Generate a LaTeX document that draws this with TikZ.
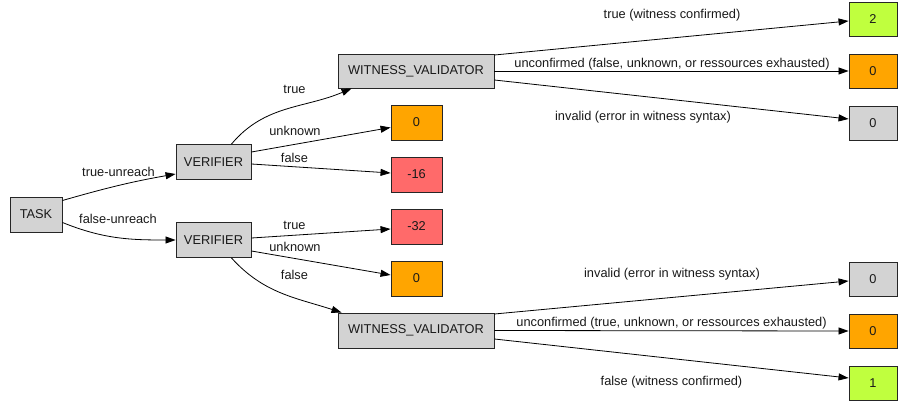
\documentclass[tikz,border=0pt]{standalone}
\usepackage{fontspec}
\setmainfont{Liberation Sans}
\usetikzlibrary{arrows.meta}
\definecolor{boxgrey}{HTML}{D3D3D3}
\definecolor{boxorange}{HTML}{FFA500}
\definecolor{boxred}{HTML}{FF6A6A}
\definecolor{boxgreen}{HTML}{C0FF3E}
\definecolor{edgecol}{HTML}{000000}
\begin{document}
\begin{tikzpicture}[x=1pt,y=-1pt,
  every node/.style={font=\fontsize{12.8}{15}\selectfont, text=black!90},
  box/.style={draw=black!85, line width=0.9pt, rectangle, inner sep=0pt, minimum height=35pt},
  greybox/.style={box, fill=boxgrey},
  midres/.style={box, minimum width=51pt},
  rightres/.style={box, minimum width=48pt, minimum height=34pt},
  lbl/.style={inner sep=0pt},
  edge/.style={draw=edgecol, line width=0.8pt, -{Triangle[length=10pt,width=7pt]}}
]
\useasboundingbox (0,0) rectangle (898,401);

% main nodes
\node[greybox, minimum width=52pt] (task) at (36,214.5) {TASK};
\node[greybox, minimum width=75pt] (v1) at (213.5,162) {VERIFIER};
\node[greybox, minimum width=75pt] (v2) at (213.5,240) {VERIFIER};
\node[greybox, minimum width=156pt, minimum height=34pt] (wv1) at (416,71) {WITNESS\_VALIDATOR};
\node[greybox, minimum width=156pt] (wv2) at (416,330.5) {WITNESS\_VALIDATOR};

% middle results
\node[midres, fill=boxorange] (r1) at (416.5,122.5) {0};
\node[midres, fill=boxred] (r2) at (416.5,174.5) {-16};
\node[midres, fill=boxred] (r3) at (416.5,226.5) {-32};
\node[midres, fill=boxorange] (r4) at (416.5,278.5) {0};

% right results
\node[rightres, fill=boxgreen] (s1) at (873,19) {2};
\node[rightres, fill=boxorange] (s2) at (873,71) {0};
\node[rightres, fill=boxgrey] (s3) at (873,123) {0};
\node[rightres, fill=boxgrey] (s4) at (873,279) {0};
\node[rightres, fill=boxorange] (s5) at (873,331) {0};
\node[rightres, fill=boxgreen] (s6) at (873,383) {1};

% edges from TASK
\draw[edge] ([yshift=14pt]task.east) to[out=16,in=190] ([yshift=-12pt]v1.west);
\draw[edge] ([yshift=-8pt]task.east) to[out=-22,in=180] (v2.west);

% edges from top VERIFIER
\draw[edge] ([xshift=18pt]v1.north) to[out=50,in=203] ([xshift=14pt]wv1.south west);
\draw[edge] ([yshift=10pt]v1.east) -- ([yshift=-5pt]r1.west);
\draw[edge] ([yshift=-2pt]v1.east) -- ([yshift=1.5pt]r2.west);

% edges from bottom VERIFIER
\draw[edge] ([yshift=2pt]v2.east) -- ([yshift=-2.5pt]r3.west);
\draw[edge] ([yshift=-11pt]v2.east) -- ([yshift=3.5pt]r4.west);
\draw[edge] ([xshift=18pt]v2.south) to[out=-48,in=162] ([xshift=4pt]wv2.north west);

% edges from top WITNESS_VALIDATOR
\draw[edge] ([yshift=16pt]wv1.east) -- ([yshift=-2pt]s1.west);
\draw[edge] (wv1.east) -- (s2.west);
\draw[edge] ([yshift=-9pt]wv1.east) -- ([yshift=4pt]s3.west);

% edges from bottom WITNESS_VALIDATOR
\draw[edge] ([yshift=16.5pt]wv2.east) -- ([yshift=-2pt]s4.west);
\draw[edge] (wv2.east) -- (s5.west);
\draw[edge] ([yshift=-8.5pt]wv2.east) -- ([yshift=5pt]s6.west);

% labels
\node[lbl] (l1) at (118.5,172) {true-unreach};
\node[lbl] (l2) at (118,219) {false-unreach};
\node[lbl] (l3) at (294.5,89) {true};
\node[lbl] (l4) at (295,131) {unknown};
\node[lbl] (l5) at (294.5,158) {false};
\node[lbl] (l6) at (294.5,225) {true};
\node[lbl] (l7) at (295,247) {unknown};
\node[lbl] (l8) at (294.5,275) {false};
\node[lbl] (l9) at (672,15) {true (witness confirmed)};
\node[lbl] (l10) at (672,64) {unconfirmed (false, unknown, or ressources exhausted)};
\node[lbl] (l11) at (643,117) {invalid (error in witness syntax)};
\node[lbl] (l12) at (672,274) {invalid (error in witness syntax)};
\node[lbl] (l13) at (671.5,323) {unconfirmed (true, unknown, or ressources exhausted)};
\node[lbl] (l14) at (671.5,382) {false (witness confirmed)};
\end{tikzpicture}
\end{document}
